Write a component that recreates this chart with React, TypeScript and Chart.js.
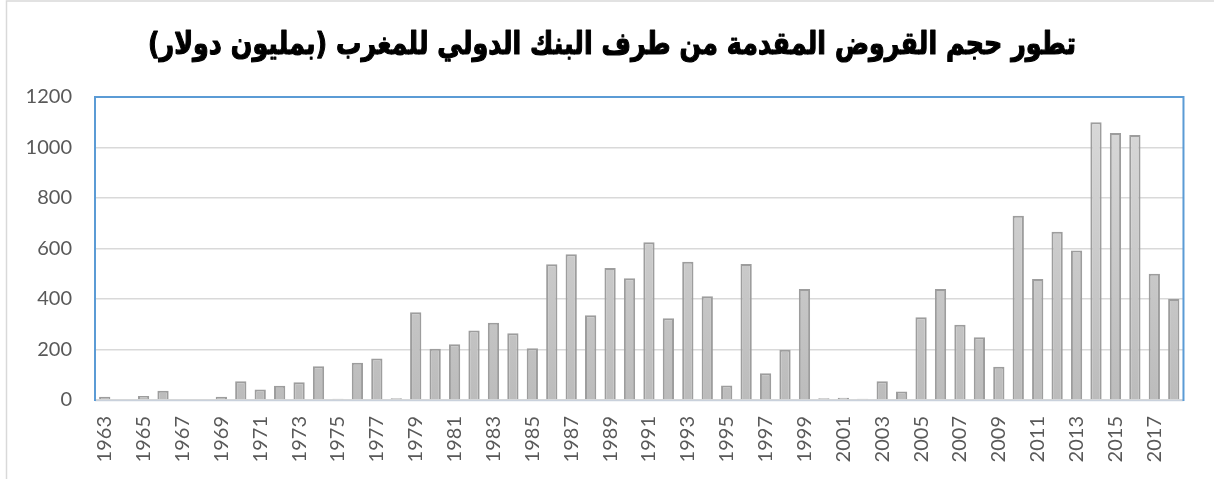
import React, { useEffect, useRef } from "react";
import { Chart, registerables } from "chart.js";

Chart.register(...registerables);

const TITLE = "تطور حجم القروض المقدمة من طرف البنك الدولي للمغرب (بمليون دولار)";

const years: string[] = [
  "1963", "1964", "1965", "1966", "1967", "1968", "1969", "1970", "1971", "1972",
  "1973", "1974", "1975", "1976", "1977", "1978", "1979", "1980", "1981", "1982",
  "1983", "1984", "1985", "1986", "1987", "1988", "1989", "1990", "1991", "1992",
  "1993", "1994", "1995", "1996", "1997", "1998", "1999", "2000", "2001", "2002",
  "2003", "2004", "2005", "2006", "2007", "2008", "2009", "2010", "2011", "2012",
  "2013", "2014", "2015", "2016", "2017", "2018",
];

const loans: number[] = [
  13, 0, 16, 37, 0, 0, 13, 74, 42, 56,
  70, 134, 5, 148, 164, 7, 348, 203, 221, 275,
  306, 264, 205, 538, 577, 336, 523, 482, 625, 324,
  548, 411, 57, 539, 106, 199, 440, 7, 9, 5,
  74, 34, 328, 440, 298, 249, 132, 730, 479, 666,
  592, 1100, 1057, 1050, 500, 400,
];

const yTicks: number[] = [0, 200, 400, 600, 800, 1000, 1200];

export default function App() {
  const ref = useRef<HTMLCanvasElement | null>(null);

  useEffect(() => {
    document.body.style.margin = "0";
    const canvas = ref.current;
    if (!canvas) return;

    const framePlugin = {
      id: "frame",
      beforeDraw(chart: any) {
        const ctx = chart.ctx;
        ctx.save();
        ctx.fillStyle = "#ffffff";
        ctx.fillRect(0, 0, chart.width, chart.height);
        ctx.strokeStyle = "#d9d9d9";
        ctx.lineWidth = 1.5;
        ctx.beginPath();
        ctx.moveTo(6.5, chart.height + 5);
        ctx.lineTo(6.5, 1);
        ctx.lineTo(chart.width + 5, 1);
        ctx.stroke();
        // title, fitted to the reference's width
        ctx.fillStyle = "#000000";
        ctx.strokeStyle = "#000000";
        ctx.font = "bold 31px 'DejaVu Sans', sans-serif";
        ctx.direction = "rtl";
        ctx.textAlign = "center";
        ctx.textBaseline = "middle";
        const w = ctx.measureText(TITLE).width;
        const sx = 928 / w;
        ctx.translate(612, 46);
        ctx.scale(sx, 1);
        ctx.lineWidth = 1.2;
        ctx.lineJoin = "round";
        ctx.strokeText(TITLE, 0, 0);
        ctx.fillText(TITLE, 0, 0);
        ctx.restore();
      },
      afterDatasetsDraw(chart: any) {
        const { ctx, chartArea } = chart;
        const { left, right, top, bottom } = chartArea;
        ctx.save();
        ctx.strokeStyle = "#c9d1dc";
        ctx.lineWidth = 1.5;
        ctx.beginPath();
        ctx.moveTo(left, bottom + 0.5);
        ctx.lineTo(right, bottom + 0.5);
        ctx.stroke();
        ctx.strokeStyle = "#5b9bd5";
        ctx.lineWidth = 2;
        ctx.beginPath();
        ctx.moveTo(left, bottom + 1);
        ctx.lineTo(left, top);
        ctx.lineTo(right, top);
        ctx.lineTo(right, bottom + 1);
        ctx.stroke();
        ctx.restore();
      },
    };

    const chart = new Chart(canvas, {
      type: "bar",
      data: {
        labels: years,
        datasets: [
          {
            data: loans,
            backgroundColor: (c: any) => {
              const area = c.chart.chartArea;
              if (!area) return "#c8c8c8";
              const g = c.chart.ctx.createLinearGradient(0, area.top, 0, area.bottom);
              g.addColorStop(0, "#dadada");
              g.addColorStop(1, "#bcbcbc");
              return g;
            },
            borderColor: "#9d9d9d",
            borderWidth: 2,
            borderSkipped: "bottom",
            barPercentage: 0.58,
            categoryPercentage: 1,
          },
        ],
      },
      plugins: [framePlugin],
      options: {
        responsive: false,
        animation: false,
        devicePixelRatio: 1,
        layout: { padding: { left: 0, top: 97, right: 27, bottom: 0 } },
        plugins: {
          legend: { display: false },
          title: { display: false },
          tooltip: { enabled: false },
        },
        scales: {
          x: {
            afterFit: (s: any) => {
              s.height = 79;
            },
            grid: { display: false, drawTicks: false },
            border: { display: false },
            ticks: {
              autoSkip: false,
              maxRotation: 90,
              minRotation: 90,
              padding: 16,
              color: "#595959",
              font: { family: "Lato, 'Open Sans', sans-serif", size: 20 },
              callback: (_v: any, i: number) => (i % 2 === 0 ? years[i] : ""),
            },
          },
          y: {
            min: 0,
            max: 1200,
            afterFit: (s: any) => {
              s.width = 95;
            },
            afterBuildTicks: (s: any) => {
              s.ticks = yTicks.map((v) => ({ value: v }));
            },
            grid: { color: "#d9d9d9", lineWidth: 1.5, drawTicks: false },
            border: { display: false },
            ticks: {
              padding: 23,
              color: "#595959",
              font: { family: "Lato, 'Open Sans', sans-serif", size: 20 },
              callback: (v: any) => String(v),
            },
          },
        },
      },
    });

    return () => chart.destroy();
  }, []);

  return (
    <div style={{ width: 1214, height: 479 }}>
      <canvas ref={ref} width={1214} height={479} style={{ display: "block" }} />
    </div>
  );
}
